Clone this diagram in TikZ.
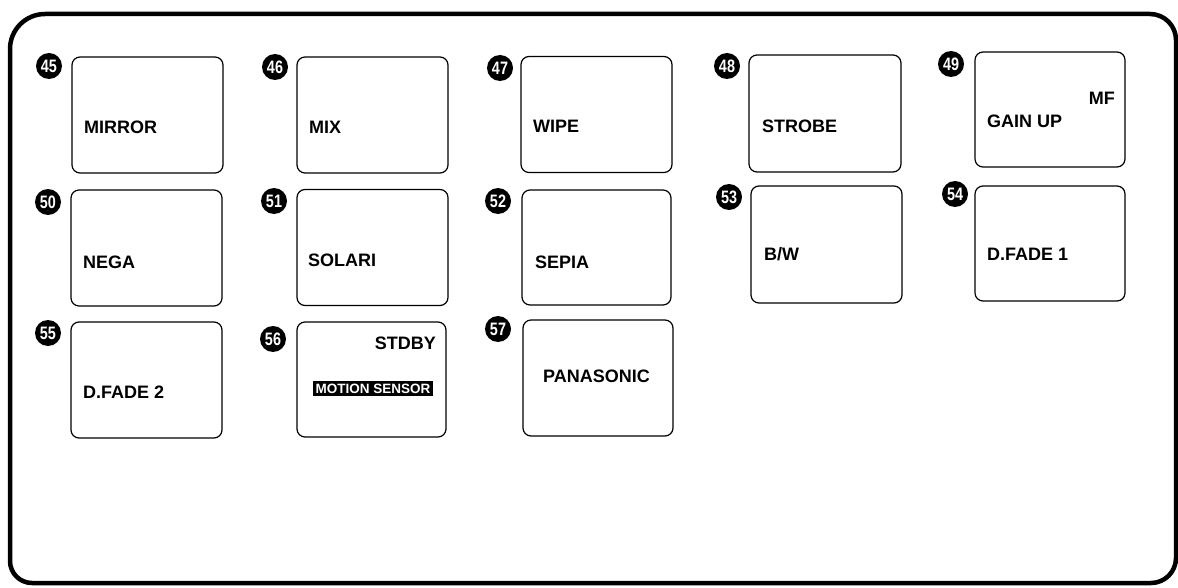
\documentclass[tikz,border=0pt]{standalone}
\usepackage{fontspec}
\setmainfont{Liberation Sans}
\begin{document}
\begin{tikzpicture}[x=1pt,y=-1pt,
  btn/.style={draw=black, line width=1.2pt, rounded corners=8pt, minimum width=151pt, minimum height=116pt, inner sep=0pt},
  badge/.style={circle, fill=black, minimum size=26pt, inner sep=0pt, text=white, font=\fontsize{18}{18}\selectfont\bfseries},
  lbl/.style={anchor=base west, inner sep=0pt, font=\fontsize{18}{18}\selectfont\bfseries},
  lblr/.style={anchor=base east, inner sep=0pt, font=\fontsize{18}{18}\selectfont\bfseries},
  inv/.style={fill=black, text=white, inner xsep=3pt, inner ysep=2.5pt, text height=9.7pt, text depth=0pt, font=\fontsize{13.5}{13.5}\selectfont\bfseries}
]
\useasboundingbox (0,0) rectangle (1178,588);
% outer frame
\draw[line width=4.5pt] (10,300) [rounded corners=35pt] -- (10,14) [rounded corners=26pt] -- (1176,14) [rounded corners=25pt] -- (1176,583) [rounded corners=22pt] -- (10,583) [sharp corners] -- cycle;

% buttons
\node[btn] (b45) at (147.5,115) {};
\node[btn] (b46) at (372.5,115) {};
\node[btn] (b47) at (596.5,114.5) {};
\node[btn, minimum width=152pt, minimum height=117pt] (b48) at (825,113.5) {};
\node[btn, minimum width=150pt, minimum height=115pt] (b49) at (1050,109.5) {};
\node[btn] (b50) at (146.5,248) {};
\node[btn] (b51) at (372.5,247.5) {};
\node[btn, minimum width=149pt, minimum height=115pt] (b52) at (596.5,247.5) {};
\node[btn, minimum height=117pt] (b53) at (826.5,244.5) {};
\node[btn, minimum width=150pt, minimum height=115pt] (b54) at (1050,243.5) {};
\node[btn] (b55) at (146.5,380) {};
\node[btn, minimum width=149pt, minimum height=115pt] (b56) at (371.5,379.5) {};
\node[btn, minimum width=150pt] (b57) at (598,378) {};

% badges
\node[badge] (n45) at (49,66) {\scalebox{0.8}[1]{45}};
\node[badge] (n46) at (275,67) {\scalebox{0.8}[1]{46}};
\node[badge] (n47) at (500,68) {\scalebox{0.8}[1]{47}};
\node[badge] (n48) at (727,66) {\scalebox{0.8}[1]{48}};
\node[badge] (n49) at (951,64) {\scalebox{0.8}[1]{49}};
\node[badge] (n50) at (48,202) {\scalebox{0.8}[1]{50}};
\node[badge] (n51) at (274,201) {\scalebox{0.8}[1]{51}};
\node[badge] (n52) at (498,201) {\scalebox{0.8}[1]{52}};
\node[badge] (n53) at (729,197) {\scalebox{0.8}[1]{53}};
\node[badge] (n54) at (955,194) {\scalebox{0.8}[1]{54}};
\node[badge] (n55) at (48,333) {\scalebox{0.8}[1]{55}};
\node[badge] (n56) at (273,339) {\scalebox{0.8}[1]{56}};
\node[badge] (n57) at (498,329) {\scalebox{0.8}[1]{57}};

% labels
\node[lbl] (t45) at (84,134) {MIRROR};
\node[lbl] (t46) at (309,134) {MIX};
\node[lbl] (t47) at (533,133) {WIPE};
\node[lbl] (t48) at (762,133) {STROBE};
\node[lbl] (t49) at (987,128) {GAIN UP};
\node[lblr] (t49b) at (1115,105) {MF};
\node[lbl] (t50) at (83,268) {NEGA};
\node[lbl] (t51) at (308,266) {SOLARI};
\node[lbl] (t52) at (535,268) {SEPIA};
\node[lbl] (t53) at (764,261) {B/W};
\node[lbl] (t54) at (987,261) {D.FADE 1};
\node[lbl] (t55) at (83,398) {D.FADE 2};
\node[lblr] (t56) at (436,349) {STDBY};
\node[inv] (t56b) at (373,388.5) {MOTION SENSOR};
\node[lbl] (t57) at (543,382) {PANASONIC};
\end{tikzpicture}
\end{document}
